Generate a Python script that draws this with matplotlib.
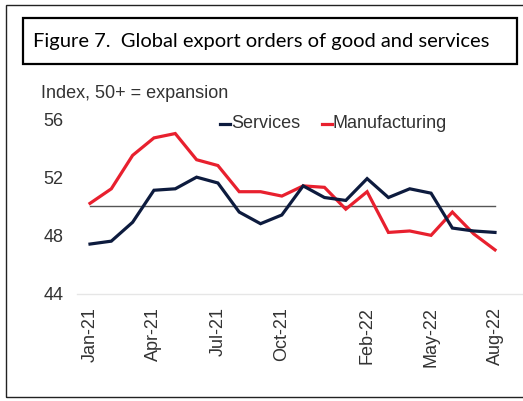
import matplotlib
matplotlib.use("Agg")
import matplotlib.pyplot as plt
from matplotlib.lines import Line2D
from matplotlib.patches import Rectangle

months = ["Jan-21", "Feb-21", "Mar-21", "Apr-21", "May-21", "Jun-21", "Jul-21", "Aug-21",
          "Sep-21", "Oct-21", "Nov-21", "Dec-21", "Jan-22", "Feb-22", "Mar-22", "Apr-22",
          "May-22", "Jun-22", "Jul-22", "Aug-22"]
services = [47.4, 47.6, 48.9, 51.1, 51.2, 52.0, 51.6, 49.6, 48.8, 49.4,
            51.4, 50.6, 50.4, 51.9, 50.6, 51.2, 50.9, 48.5, 48.3, 48.2]
manufacturing = [50.2, 51.2, 53.5, 54.7, 55.0, 53.2, 52.8, 51.0, 51.0, 50.7,
                 51.4, 51.3, 49.8, 51.0, 48.2, 48.3, 48.0, 49.6, 48.1, 47.0]
tick_labels = ["Jan-21", "Apr-21", "Jul-21", "Oct-21", "Feb-22", "May-22", "Aug-22"]
yticks = [44, 48, 52, 56]
threshold = 50

W, H = 523, 401
fig = plt.figure(figsize=(W / 100, H / 100), dpi=100)
fig.patch.set_facecolor("white")

def fx(x):
    return x / W

def fy(y):
    return 1 - y / H

# outer frame
fig.add_artist(Rectangle((fx(6), fy(397)), fx(530) - fx(6), fy(5) - fy(397),
                         transform=fig.transFigure, fill=False, edgecolor="#222222", lw=1.0))
# title box
fig.add_artist(Rectangle((fx(23), fy(64)), fx(517) - fx(23), fy(18) - fy(64),
                         transform=fig.transFigure, fill=False, edgecolor="black", lw=1.6))
fig.text(fx(33), fy(42), "Figure 7.  Global export orders of good and services",
         fontsize=14.5, family="Lato", color="black", va="center", ha="left")

fig.text(fx(41), fy(93), "Index, 50+ = expansion", fontsize=13,
         family="Liberation Sans", color="#333333", va="center", ha="left")

# axes
x0, x1 = 77, 523
ytop, ybot = 119, 293.5
ax = fig.add_axes([fx(x0), fy(ybot), fx(x1) - fx(x0), fy(ytop) - fy(ybot)])
pxm = (495 - 90) / 19
ax.set_xlim(-(90 - x0) / pxm, 19 + (x1 - 495) / pxm)
ax.set_ylim(44, 56)

xs = list(range(len(months)))
ax.plot([0, len(months) - 1], [threshold, threshold], color="#555555", lw=1.0, zorder=1)
ax.plot(xs, manufacturing, color="#e8202e", lw=2.3, solid_joinstyle="miter", zorder=2, clip_on=False)
ax.plot(xs, services, color="#0d1b3e", lw=2.3, solid_joinstyle="miter", zorder=3, clip_on=False)

for s in ["top", "right", "left"]:
    ax.spines[s].set_visible(False)
ax.spines["bottom"].set_color("#e6e6e6")
ax.spines["bottom"].set_linewidth(1.0)

ax.set_yticks(yticks)
ax.set_yticklabels([str(v) for v in yticks])
ax.tick_params(axis="y", length=0, pad=9.5, labelsize=13, labelcolor="#333333")
tick_pos = [months.index(t) for t in tick_labels]
ax.set_xticks(tick_pos)
ax.set_xticklabels(tick_labels, rotation=90)
ax.tick_params(axis="x", length=0, pad=10, labelsize=13, labelcolor="#333333")
for lbl in ax.get_xticklabels() + ax.get_yticklabels():
    lbl.set_family("Liberation Sans")

# legend
ly = fy(124)
fig.add_artist(Line2D([fx(220), fx(230)], [ly, ly], color="#0d1b3e", lw=2.3, transform=fig.transFigure))
fig.text(fx(231), ly, "Services", fontsize=13, family="Liberation Sans", color="#333333", va="center")
fig.add_artist(Line2D([fx(322), fx(332)], [ly, ly], color="#e8202e", lw=2.3, transform=fig.transFigure))
fig.text(fx(333), ly, "Manufacturing", fontsize=13, family="Liberation Sans", color="#333333", va="center")

fig.savefig("out.png", dpi=100)
